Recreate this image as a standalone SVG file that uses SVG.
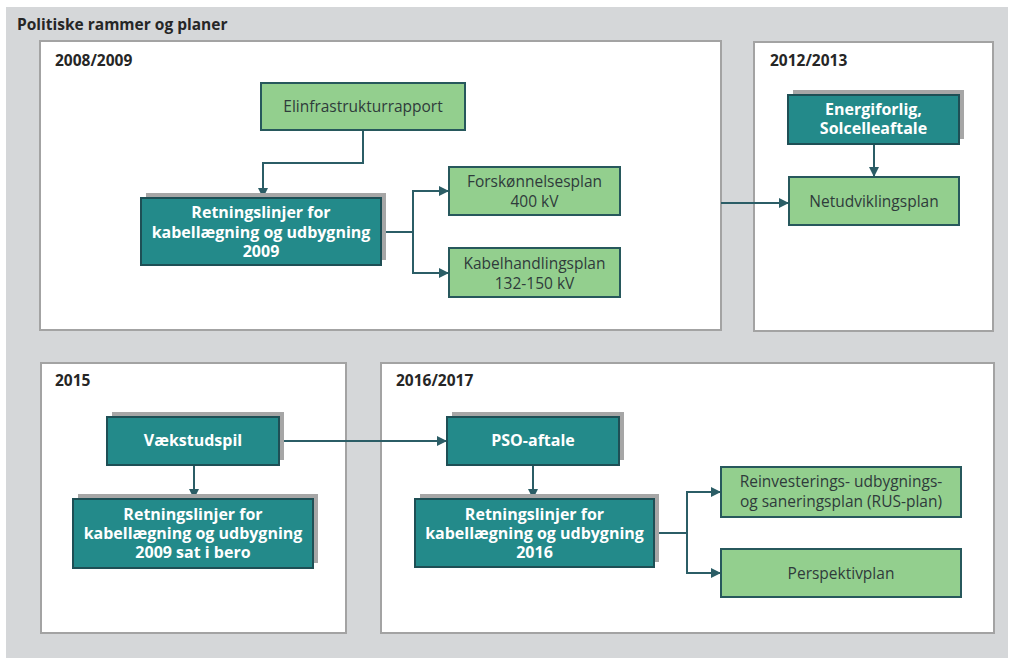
<svg xmlns="http://www.w3.org/2000/svg" width="1014" height="660" viewBox="0 0 1014 660">
<style>
.bg{fill:#d5d7d9}
.panel{fill:#ffffff;stroke:#a3a3a3;stroke-width:2}
.ptitle{font-family:"Open Sans","Liberation Sans",sans-serif;font-weight:bold;font-size:15.5px;fill:#262626}
.teal{fill:#238a8a;stroke:#1e4f55;stroke-width:2}
.shadow{fill:#a6a6a6}
.green{fill:#93cf8e;stroke:#27585c;stroke-width:2}
.tw{font-family:"Open Sans","Liberation Sans",sans-serif;font-weight:bold;font-size:16px;fill:#ffffff;text-anchor:middle}
.tg{font-family:"Open Sans","Liberation Sans",sans-serif;font-size:15.5px;fill:#2f3b3b;text-anchor:middle}
.conn{fill:none;stroke:#2b5d66;stroke-width:2}
</style>
<defs>
<marker id="arr" viewBox="0 0 10 10" refX="10" refY="5" markerWidth="10" markerHeight="10" markerUnits="userSpaceOnUse" orient="auto">
<path d="M0,0 L10,5 L0,10 Z" fill="#2b5d66"/>
</marker>
</defs>
<rect class="bg" x="6" y="7" width="1002" height="651"/>
<text class="ptitle" x="17" y="30">Politiske rammer og planer</text>

<g id="panel-2008">
<rect class="panel" x="40" y="41" width="681" height="289"/>
<text class="ptitle" x="55" y="66">2008/2009</text>
</g>
<g id="panel-2012">
<rect class="panel" x="754" y="42" width="239" height="289"/>
<text class="ptitle" x="770" y="66">2012/2013</text>
</g>
<g id="panel-2015">
<rect class="panel" x="41" y="363" width="305" height="270"/>
<text class="ptitle" x="55" y="386">2015</text>
</g>
<g id="panel-2016">
<rect class="panel" x="381" y="363" width="613" height="270"/>
<text class="ptitle" x="396" y="386">2016/2017</text>
</g>

<g id="connectors">
<path class="conn" d="M363,130 V163 H263 V198" marker-end="url(#arr)"/>
<path class="conn" d="M381,232 H413 V191 H449" marker-end="url(#arr)"/>
<path class="conn" d="M413,232 V273 H449" marker-end="url(#arr)"/>
<path class="conn" d="M721,203 H789" marker-end="url(#arr)"/>
<path class="conn" d="M874,144 V177" marker-end="url(#arr)"/>
<path class="conn" d="M194,465 V499" marker-end="url(#arr)"/>
<path class="conn" d="M279,441 H447" marker-end="url(#arr)"/>
<path class="conn" d="M533,465 V499" marker-end="url(#arr)"/>
<path class="conn" d="M654,533 H687 V492 H721" marker-end="url(#arr)"/>
<path class="conn" d="M687,533 V573 H721" marker-end="url(#arr)"/>
</g>

<g id="elinfra">
<rect class="green" x="261" y="83" width="204" height="47"/>
<text class="tg" x="363" y="112">Elinfrastrukturrapport</text>
</g>
<g id="retning2009">
<rect class="shadow" x="146" y="193" width="240" height="67"/>
<rect class="teal" x="141" y="198" width="240" height="67"/>
<text class="tw" x="261" y="218">Retningslinjer for</text>
<text class="tw" x="261" y="238">kabellægning og udbygning</text>
<text class="tw" x="261" y="257">2009</text>
</g>
<g id="forskonnelse">
<rect class="green" x="449" y="167" width="171" height="48"/>
<text class="tg" x="534.5" y="187">Forskønnelsesplan</text>
<text class="tg" x="534.5" y="207">400 kV</text>
</g>
<g id="kabelhandling">
<rect class="green" x="449" y="248" width="171" height="49"/>
<text class="tg" x="534.5" y="269">Kabelhandlingsplan</text>
<text class="tg" x="534.5" y="289">132-150 kV</text>
</g>
<g id="energiforlig">
<rect class="shadow" x="793" y="90" width="171" height="49"/>
<rect class="teal" x="788" y="95" width="171" height="49"/>
<text class="tw" x="873.5" y="115">Energiforlig,</text>
<text class="tw" x="873.5" y="134">Solcelleaftale</text>
</g>
<g id="netudvikling">
<rect class="green" x="789" y="177" width="170" height="48"/>
<text class="tg" x="874" y="207">Netudviklingsplan</text>
</g>
<g id="vaekstudspil">
<rect class="shadow" x="112" y="412" width="172" height="48"/>
<rect class="teal" x="107" y="417" width="172" height="48"/>
<text class="tw" x="193" y="446">Vækstudspil</text>
</g>
<g id="retning-bero">
<rect class="shadow" x="78" y="494" width="240" height="69"/>
<rect class="teal" x="73" y="499" width="240" height="69"/>
<text class="tw" x="193" y="520">Retningslinjer for</text>
<text class="tw" x="193" y="539">kabellægning og udbygning</text>
<text class="tw" x="193" y="558">2009 sat i bero</text>
</g>
<g id="pso">
<rect class="shadow" x="452" y="412" width="172" height="48"/>
<rect class="teal" x="447" y="417" width="172" height="48"/>
<text class="tw" x="533" y="446">PSO-aftale</text>
</g>
<g id="retning2016">
<rect class="shadow" x="420" y="494" width="239" height="68"/>
<rect class="teal" x="415" y="499" width="239" height="68"/>
<text class="tw" x="534.5" y="520">Retningslinjer for</text>
<text class="tw" x="534.5" y="539">kabellægning og udbygning</text>
<text class="tw" x="534.5" y="558">2016</text>
</g>
<g id="rus">
<rect class="green" x="721" y="467" width="240" height="50"/>
<text class="tg" x="841" y="487">Reinvesterings- udbygnings-</text>
<text class="tg" x="841" y="507">og saneringsplan (RUS-plan)</text>
</g>
<g id="perspektiv">
<rect class="green" x="721" y="549" width="240" height="48"/>
<text class="tg" x="841" y="579">Perspektivplan</text>
</g>
</svg>
